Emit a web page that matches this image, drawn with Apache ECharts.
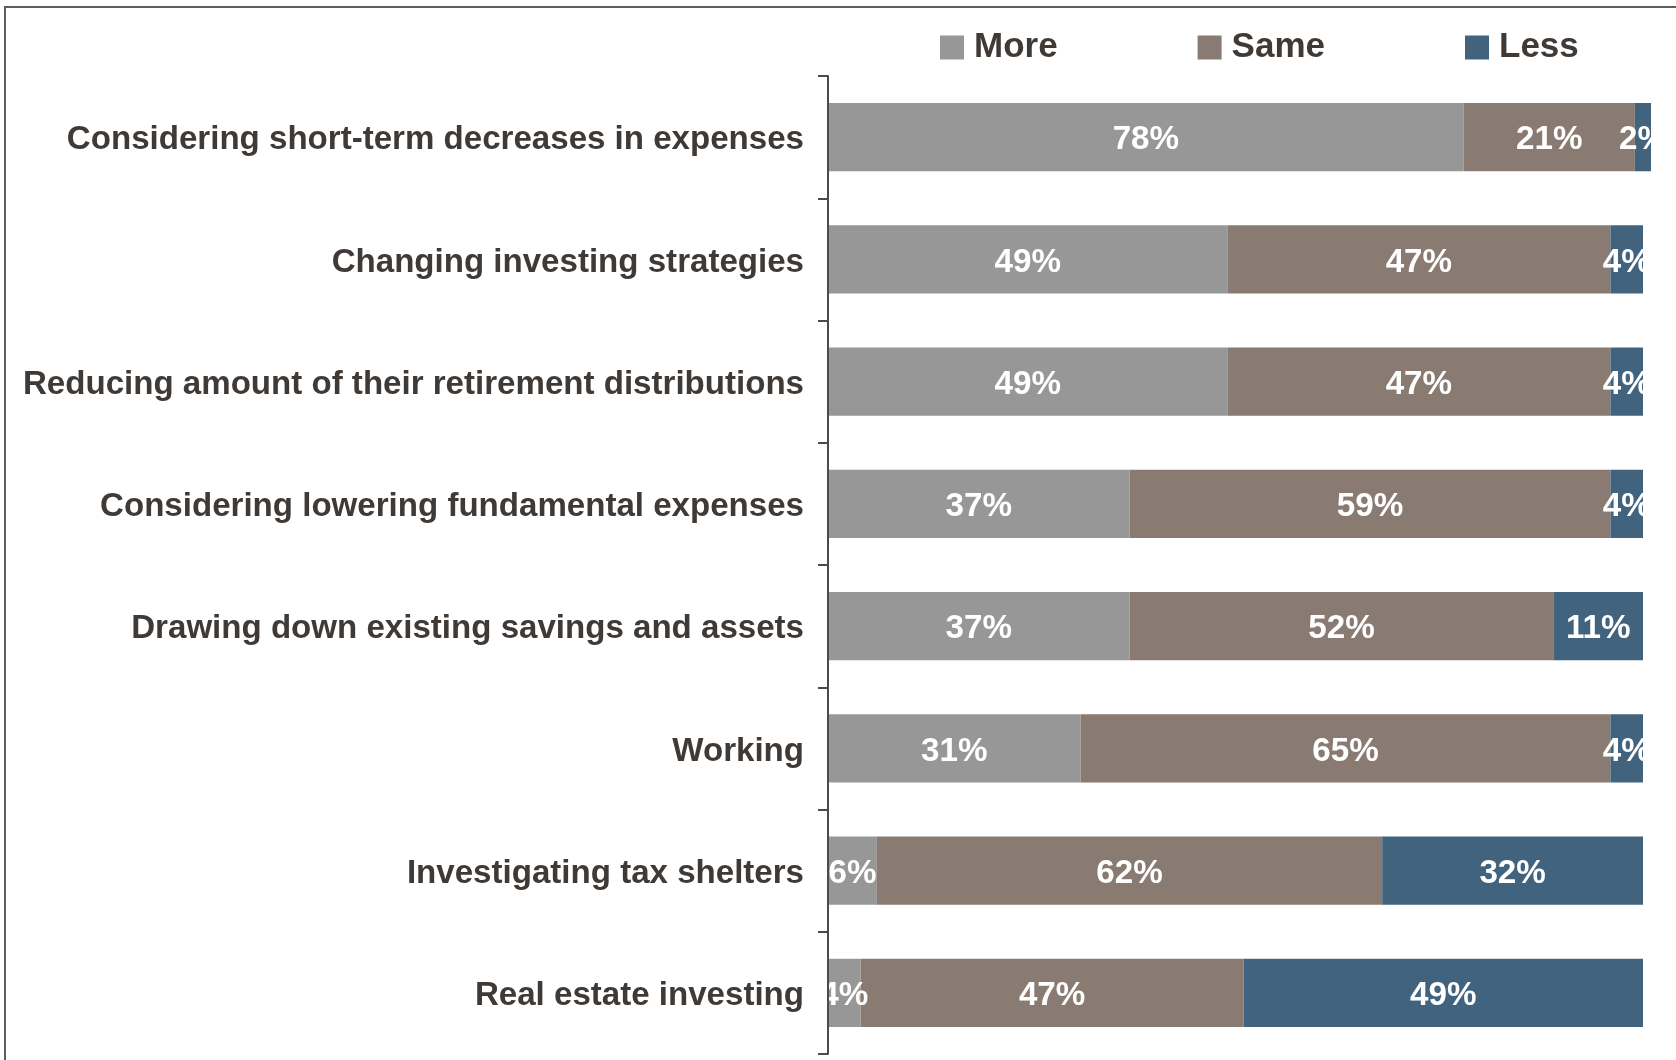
<!DOCTYPE html>
<html>
<head>
<meta charset="utf-8">
<script src="https://cdn.jsdelivr.net/npm/echarts@6/dist/echarts.min.js"></script>
<style>
  html, body { margin: 0; padding: 0; background: #ffffff; }
  #chart { width: 1676px; height: 1060px; }
</style>
</head>
<body>
<div id="chart"></div>
<script>
// Survey rows, top to bottom
const categories = [
  'Considering short-term decreases in expenses',
  'Changing investing strategies',
  'Reducing amount of their retirement distributions',
  'Considering lowering fundamental expenses',
  'Drawing down existing savings and assets',
  'Working',
  'Investigating tax shelters',
  'Real estate investing'
];

// Share of respondents (%) per answer
const moreValues = [78, 49, 49, 37, 37, 31, 6, 4];
const sameValues = [21, 47, 47, 59, 52, 65, 62, 47];
const lessValues = [2, 4, 4, 4, 11, 4, 32, 49];

const seriesNames = ['More', 'Same', 'Less'];
const seriesColors = ['#979797', '#8a7b72', '#41637e'];

const FONT = '"Liberation Sans", Arial, Helvetica, sans-serif';
const TEXT_DARK = '#403a36';
const AXIS_DARK = '#4d4a48';

const chart = echarts.init(document.getElementById('chart'), null, { renderer: 'canvas' });

const valueSets = [moreValues, sameValues, lessValues];

function barSeries(i) {
  return {
    name: seriesNames[i],
    type: 'bar',
    stack: 'total',
    clip: false,
    barCategoryGap: '44%',
    itemStyle: { color: seriesColors[i] },
    label: {
      show: true,
      position: 'inside',
      offset: [0, 3],
      formatter: '{c}%',
      color: '#ffffff',
      fontFamily: FONT,
      fontWeight: 'bold',
      fontSize: 33.2
    },
    emphasis: { disabled: true },
    data: valueSets[i]
  };
}

chart.setOption({
  animation: false,
  backgroundColor: '#ffffff',
  textStyle: { fontFamily: FONT },
  legend: {
    left: 940,
    top: 30,
    padding: 0,
    itemGap: 140,
    itemWidth: 24,
    itemHeight: 24,
    icon: 'rect',
    selectedMode: false,
    data: seriesNames,
    textStyle: {
      fontFamily: FONT,
      fontWeight: 'bold',
      fontSize: 35,
      color: TEXT_DARK,
      padding: [0, 0, 0, 5]
    }
  },
  grid: { left: 828, top: 76, width: 815, bottom: 6, containLabel: false },
  xAxis: {
    type: 'value',
    min: 0,
    max: 100,
    show: false
  },
  yAxis: {
    type: 'category',
    inverse: true,
    data: categories,
    z: 200,
    axisLine: { show: true, lineStyle: { color: AXIS_DARK, width: 2 } },
    axisTick: { show: true, inside: false, length: 10, lineStyle: { color: AXIS_DARK, width: 2 } },
    axisLabel: {
      margin: 24,
      formatter: function (v) { return '{t|' + v + '}'; },
      rich: {
        t: {
          padding: [6, 0, 0, 0],
          fontFamily: FONT,
          fontWeight: 'bold',
          fontSize: 33.1,
          color: TEXT_DARK
        }
      }
    },
    splitLine: { show: false }
  },
  series: [barSeries(0), barSeries(1), barSeries(2)]
});

// Frame, plus white masks that trim value labels to each row's bar extent
const grid = chart.getModel().getComponent('grid', 0).coordinateSystem.getRect();
const band = grid.height / categories.length;
const barHalf = band * 0.56 / 2 + 2;
const graphics = [{
  type: 'rect',
  z: 150,
  silent: true,
  shape: { x: 5, y: 7, width: 2000, height: 2000 },
  style: { fill: 'none', stroke: '#5e5e5e', lineWidth: 2 }
}];
categories.forEach(function (c, i) {
  const total = moreValues[i] + sameValues[i] + lessValues[i];
  const endPt = chart.convertToPixel({ gridIndex: 0 }, [total, i]);
  const startPt = chart.convertToPixel({ gridIndex: 0 }, [0, i]);
  graphics.push({
    type: 'rect', z: 100, silent: true,
    shape: { x: endPt[0], y: endPt[1] - barHalf, width: 1676 - endPt[0], height: barHalf * 2 },
    style: { fill: '#ffffff' }
  });
  graphics.push({
    type: 'rect', z: 100, silent: true,
    shape: { x: startPt[0] - 20, y: startPt[1] - barHalf, width: 19, height: barHalf * 2 },
    style: { fill: '#ffffff' }
  });
});
chart.setOption({ graphic: graphics });
</script>
</body>
</html>
